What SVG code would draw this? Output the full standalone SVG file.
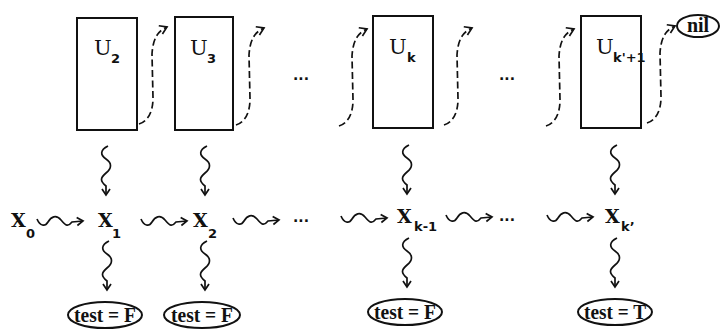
<svg xmlns="http://www.w3.org/2000/svg" xmlns:xlink="http://www.w3.org/1999/xlink" width="721" height="331" viewBox="0 0 721 331">
<style>
.box{fill:none;stroke:#111;stroke-width:2}
.ell{fill:none;stroke:#111;stroke-width:2}
.wave{fill:none;stroke:#111;stroke-width:1.7;marker-end:url(#ah)}
.dash{fill:none;stroke:#111;stroke-width:1.7;stroke-dasharray:7,3.5;marker-end:url(#ahd)}
.u{font-family:"DejaVu Serif",serif;font-size:21px;fill:#111}
.us{font-family:"DejaVu Sans",sans-serif;font-weight:bold;font-size:13px;fill:#111}
.x{font-family:"DejaVu Serif",serif;font-weight:bold;font-size:19px;fill:#111}
.xs{font-family:"DejaVu Sans",sans-serif;font-weight:bold;font-size:13px;fill:#111}
.t{font-family:"Liberation Serif",serif;font-weight:bold;font-size:20px;fill:#111}
.dots{font-family:"DejaVu Sans",sans-serif;font-weight:bold;font-size:14px;fill:#111}
</style>
<defs>
<marker id="ah" viewBox="-7 -5 9 10" refX="0" refY="0" markerWidth="9" markerHeight="10" markerUnits="userSpaceOnUse" orient="auto">
<path d="M-6,-4 L0,0 L-6,4" fill="none" stroke="#111" stroke-width="1.7"/>
</marker>
<marker id="ahd" viewBox="-8 -6 10 12" refX="0" refY="0" markerWidth="10" markerHeight="12" markerUnits="userSpaceOnUse" orient="auto">
<path d="M-7,-4.5 L0,0 L-7,4.5" fill="none" stroke="#111" stroke-width="1.7"/>
</marker>
<path id="vw" class="wave" d="M2,0 C-6,4 -6,9 0,13 S6,22 0,27 S-6,35 0,40 L0,49"/>
<path id="hw" class="wave" d="M0,-2 C3,5 8,6 11,1 S19,-7 24,-1 S31,6 35,1 L46,0"/>
<path id="dc" class="dash" d="M0,0 C9,-3 14,-12 14,-26 L13,-70 C14,-86 19,-93 28,-97"/>
</defs>

<g id="U2"><rect class="box" x="77" y="18" width="60" height="112"/><text class="u" x="94" y="55">U</text><text class="us" x="111" y="63">2</text></g>
<g id="U3"><rect class="box" x="175" y="17" width="58" height="113"/><text class="u" x="190" y="55">U</text><text class="us" x="207" y="63">3</text></g>
<g id="Uk"><rect class="box" x="373" y="16" width="60" height="112"/><text class="u" x="389" y="54">U</text><text class="us" x="407" y="62">k</text></g>
<g id="Uk1"><rect class="box" x="581" y="16" width="60" height="112"/><text class="u" x="596" y="54">U</text><text class="us" x="613" y="62">k'+1</text></g>
<g id="nil"><ellipse class="ell" cx="698" cy="26" rx="21" ry="11"/><text class="t" x="698" y="32" text-anchor="middle" font-size="17px">nil</text></g>

<g id="X0"><text class="x" x="11" y="227">X</text><text class="xs" x="26" y="238">0</text></g>
<g id="X1"><text class="x" x="98" y="227">X</text><text class="xs" x="112" y="238">1</text></g>
<g id="X2"><text class="x" x="193" y="227">X</text><text class="xs" x="208" y="238">2</text></g>
<g id="Xk-1"><text class="x" x="397" y="223">X</text><text class="xs" x="414" y="231">k-1</text></g>
<g id="Xk"><text class="x" x="605" y="223">X</text><text class="xs" x="621" y="231">k’</text></g>

<g id="T1"><ellipse class="ell" cx="105" cy="315" rx="37" ry="13"/><text class="t" x="105" y="322" text-anchor="middle" textLength="62" lengthAdjust="spacingAndGlyphs">test = F</text></g>
<g id="T2"><ellipse class="ell" cx="202" cy="315" rx="38" ry="13"/><text class="t" x="202" y="322" text-anchor="middle" textLength="62" lengthAdjust="spacingAndGlyphs">test = F</text></g>
<g id="T3"><ellipse class="ell" cx="405" cy="312" rx="37" ry="13"/><text class="t" x="405" y="319" text-anchor="middle" textLength="62" lengthAdjust="spacingAndGlyphs">test = F</text></g>
<g id="T4"><ellipse class="ell" cx="615" cy="312" rx="37" ry="13"/><text class="t" x="615" y="319" text-anchor="middle" textLength="62" lengthAdjust="spacingAndGlyphs">test = T</text></g>

<g id="ellipses-dots">
<text class="dots" x="293" y="80">...</text>
<text class="dots" x="499" y="80">...</text>
<text class="dots" x="293" y="222">...</text>
<text class="dots" x="499" y="221">...</text>
</g>

<g id="connectors">
<use xlink:href="#dc" x="139" y="124"/>
<use xlink:href="#dc" x="236" y="125"/>
<use xlink:href="#dc" x="339" y="126"/>
<use xlink:href="#dc" x="444" y="125"/>
<use xlink:href="#dc" x="546" y="126"/>
<use xlink:href="#dc" x="647" y="123"/>
<use xlink:href="#vw" x="106" y="146"/>
<use xlink:href="#vw" x="205" y="146"/>
<use xlink:href="#vw" x="407" y="145"/>
<use xlink:href="#vw" x="615" y="145"/>
<use xlink:href="#vw" x="107" y="241"/>
<use xlink:href="#vw" x="205" y="241"/>
<use xlink:href="#vw" x="407" y="238"/>
<use xlink:href="#vw" x="615" y="238"/>
<use xlink:href="#hw" x="37" y="221"/>
<use xlink:href="#hw" x="141" y="221"/>
<use xlink:href="#hw" x="233" y="220"/>
<use xlink:href="#hw" x="341" y="218"/>
<use xlink:href="#hw" x="446" y="217"/>
<use xlink:href="#hw" x="547" y="217"/>
</g>
</svg>
